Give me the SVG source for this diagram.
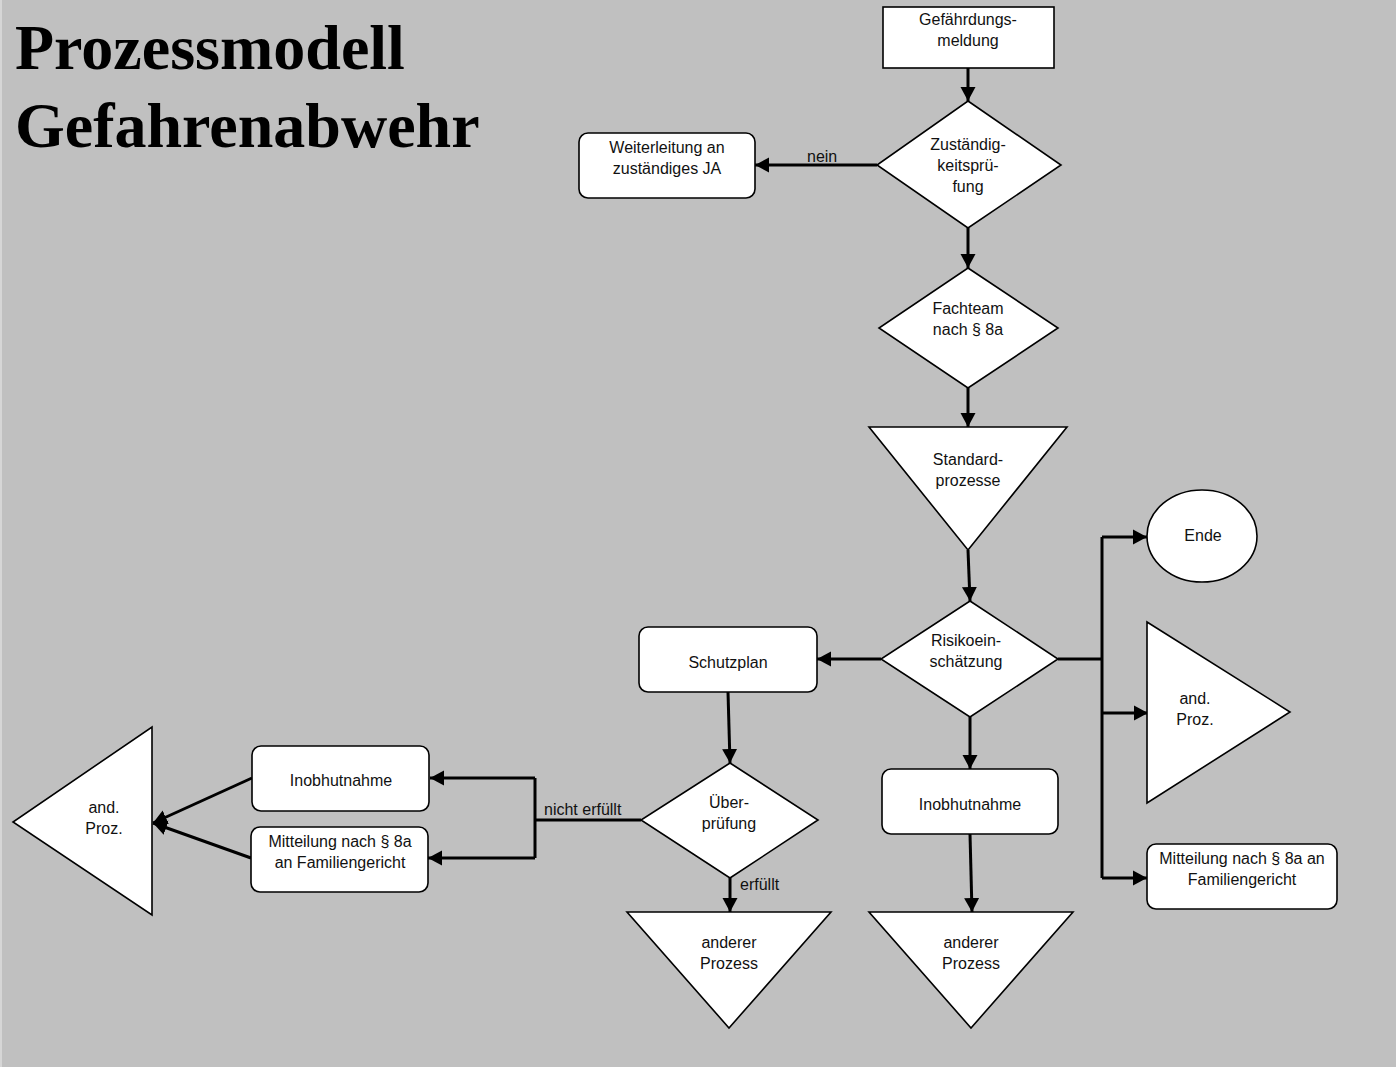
<svg xmlns="http://www.w3.org/2000/svg" width="1396" height="1067" viewBox="0 0 1396 1067">
<defs>
<style>
.n{fill:#fff;stroke:#000;stroke-width:1.6}
.t{font-family:"Liberation Sans",Arial,sans-serif;font-size:16px;fill:#111;text-anchor:middle}
.l{font-family:"Liberation Sans",Arial,sans-serif;font-size:16px;fill:#111}
.c{fill:none;stroke:#000;stroke-width:3}
.h{font-family:"Liberation Serif","Times New Roman",serif;font-size:64px;font-weight:bold;fill:#000}
</style>
<marker id="a" markerUnits="userSpaceOnUse" markerWidth="15" markerHeight="16" refX="14" refY="8" orient="auto">
<path d="M0,0.5 L14,8 L0,15.5 z" fill="#000"/>
</marker>
</defs>
<rect x="0" y="0" width="1396" height="1067" fill="#c0c0c0"/>
<rect x="0" y="0" width="2" height="1067" fill="#d6d6d6"/>
<g id="title">
<text class="h" x="15" y="69">Prozessmodell</text>
<text class="h" x="15" y="147">Gefahrenabwehr</text>
</g>
<g id="connectors">
<line class="c" x1="968" y1="68" x2="968" y2="101" marker-end="url(#a)"/>
<line class="c" x1="877" y1="165" x2="755" y2="165" marker-end="url(#a)"/>
<text class="l" x="807" y="162">nein</text>
<line class="c" x1="968" y1="228" x2="968" y2="268" marker-end="url(#a)"/>
<line class="c" x1="968" y1="388" x2="968" y2="427" marker-end="url(#a)"/>
<line class="c" x1="968" y1="550" x2="970" y2="601" marker-end="url(#a)"/>
<line class="c" x1="881" y1="659" x2="817" y2="659" marker-end="url(#a)"/>
<line class="c" x1="970" y1="717" x2="970" y2="769" marker-end="url(#a)"/>
<line class="c" x1="970" y1="834" x2="972" y2="912" marker-end="url(#a)"/>
<polyline class="c" points="1058,659 1102,659"/>
<polyline class="c" points="1102,537 1102,878"/>
<line class="c" x1="1102" y1="537" x2="1147" y2="537" marker-end="url(#a)"/>
<line class="c" x1="1102" y1="713" x2="1148" y2="713" marker-end="url(#a)"/>
<line class="c" x1="1102" y1="878" x2="1147" y2="878" marker-end="url(#a)"/>
<line class="c" x1="728" y1="692" x2="730" y2="763" marker-end="url(#a)"/>
<line class="c" x1="730" y1="878" x2="730" y2="912" marker-end="url(#a)"/>
<text class="l" x="740" y="890">erfüllt</text>
<polyline class="c" points="641,820 535,820"/>
<polyline class="c" points="535,778 535,858"/>
<line class="c" x1="535" y1="778" x2="430" y2="778" marker-end="url(#a)"/>
<line class="c" x1="535" y1="858" x2="428" y2="858" marker-end="url(#a)"/>
<text class="l" x="544" y="815">nicht erfüllt</text>
<line class="c" x1="252" y1="778" x2="153" y2="823" marker-end="url(#a)"/>
<line class="c" x1="251" y1="858" x2="153" y2="823" marker-end="url(#a)"/>
</g>
<g id="gefaehrdungsmeldung">
<rect class="n" x="883" y="7" width="171" height="61"/>
<text class="t" x="968" y="25">Gefährdungs-</text>
<text class="t" x="968" y="46">meldung</text>
</g>
<g id="zustaendigkeit">
<polygon class="n" points="968,101 1061,165 968,228 877,165"/>
<text class="t" x="968" y="150">Zuständig-</text>
<text class="t" x="968" y="171">keitsprü-</text>
<text class="t" x="968" y="192">fung</text>
</g>
<g id="weiterleitung">
<rect class="n" x="579" y="133" width="176" height="65" rx="9"/>
<text class="t" x="667" y="153">Weiterleitung an</text>
<text class="t" x="667" y="174">zuständiges JA</text>
</g>
<g id="fachteam">
<polygon class="n" points="968,268 1058,328 968,388 879,328"/>
<text class="t" x="968" y="314">Fachteam</text>
<text class="t" x="968" y="335">nach § 8a</text>
</g>
<g id="standardprozesse">
<polygon class="n" points="869,427 1067,427 968,550"/>
<text class="t" x="968" y="465">Standard-</text>
<text class="t" x="968" y="486">prozesse</text>
</g>
<g id="risikoeinschaetzung">
<polygon class="n" points="970,601 1058,659 970,717 881,659"/>
<text class="t" x="966" y="646">Risikoein-</text>
<text class="t" x="966" y="667">schätzung</text>
</g>
<g id="ende">
<ellipse class="n" cx="1202" cy="536" rx="55" ry="46"/>
<text class="t" x="1203" y="541">Ende</text>
</g>
<g id="andproz-rechts">
<polygon class="n" points="1147,622 1290,712 1147,803"/>
<text class="t" x="1195" y="704">and.</text>
<text class="t" x="1195" y="725">Proz.</text>
</g>
<g id="mitteilung-rechts">
<rect class="n" x="1147" y="844" width="190" height="65" rx="9"/>
<text class="t" x="1242" y="864">Mitteilung nach § 8a an</text>
<text class="t" x="1242" y="885">Familiengericht</text>
</g>
<g id="inobhutnahme-rechts">
<rect class="n" x="882" y="769" width="176" height="65" rx="9"/>
<text class="t" x="970" y="810">Inobhutnahme</text>
</g>
<g id="anderer-prozess-rechts">
<polygon class="n" points="869,912 1073,912 971,1028"/>
<text class="t" x="971" y="948">anderer</text>
<text class="t" x="971" y="969">Prozess</text>
</g>
<g id="schutzplan">
<rect class="n" x="639" y="627" width="178" height="65" rx="9"/>
<text class="t" x="728" y="668">Schutzplan</text>
</g>
<g id="ueberpruefung">
<polygon class="n" points="730,763 818,820 730,878 641,820"/>
<text class="t" x="729" y="808">Über-</text>
<text class="t" x="729" y="829">prüfung</text>
</g>
<g id="anderer-prozess-links">
<polygon class="n" points="627,912 831,912 729,1028"/>
<text class="t" x="729" y="948">anderer</text>
<text class="t" x="729" y="969">Prozess</text>
</g>
<g id="inobhutnahme-links">
<rect class="n" x="252" y="746" width="177" height="65" rx="9"/>
<text class="t" x="341" y="786">Inobhutnahme</text>
</g>
<g id="mitteilung-links">
<rect class="n" x="251" y="827" width="177" height="65" rx="9"/>
<text class="t" x="340" y="847">Mitteilung nach § 8a</text>
<text class="t" x="340" y="868">an Familiengericht</text>
</g>
<g id="andproz-links">
<polygon class="n" points="152,727 152,915 13,822"/>
<text class="t" x="104" y="813">and.</text>
<text class="t" x="104" y="834">Proz.</text>
</g>
</svg>
